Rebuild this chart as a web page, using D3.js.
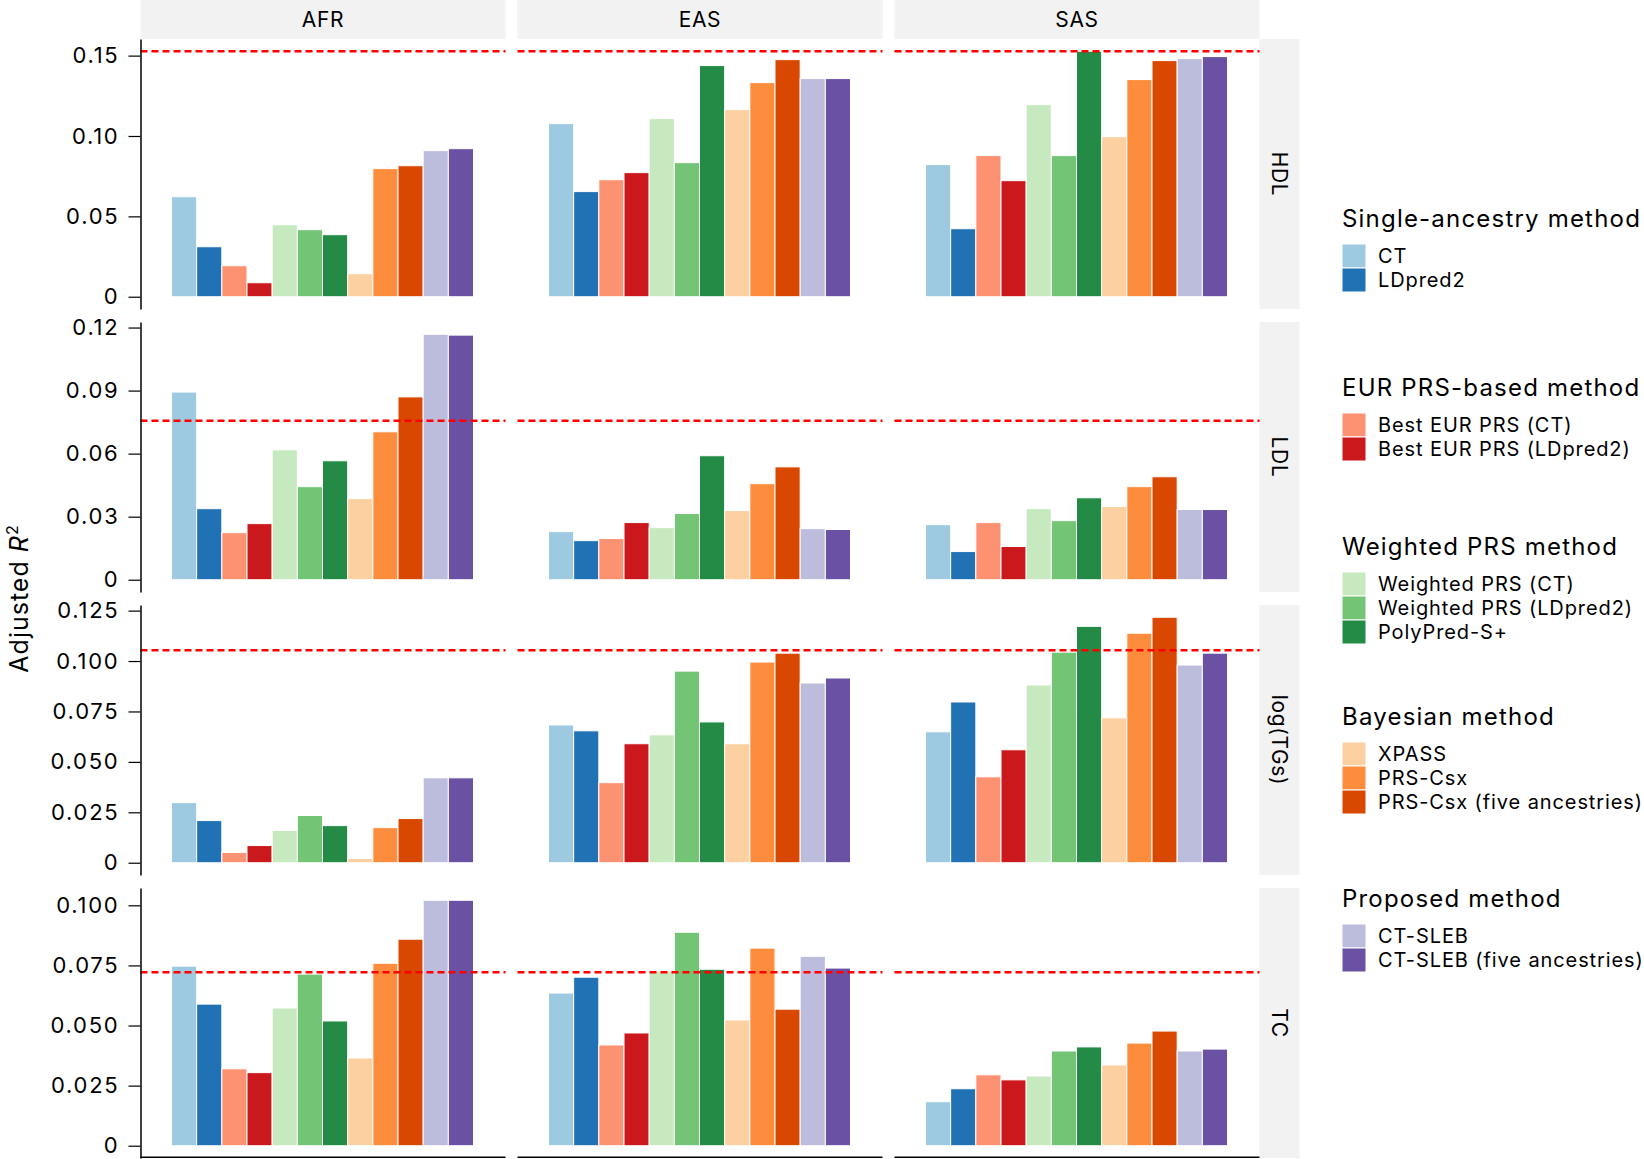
<!DOCTYPE html>
<html>
<head>
<meta charset="utf-8">
<script src="https://cdn.jsdelivr.net/npm/d3@7"></script>
<style>
  body { margin: 0; background: #fff; }
  svg { display: block; font-family: Inter, "Noto Sans", sans-serif; }
</style>
</head>
<body>
<div class="vis-bars"></div>
<script>
// ---- data ----
const ancestries = ['AFR', 'EAS', 'SAS'];
const traits = ['HDL', 'LDL', 'log(TGs)', 'TC'];

const methods = [
  'CT', 'LDpred2',
  'Best EUR PRS (CT)', 'Best EUR PRS (LDpred2)',
  'Weighted PRS (CT)', 'Weighted PRS (LDpred2)', 'PolyPred-S+',
  'XPASS', 'PRS-Csx', 'PRS-Csx (five ancestries)',
  'CT-SLEB', 'CT-SLEB (five ancestries)'
];
const methodColors = [
  '#9ecae1', '#2171b5',
  '#fc9272', '#cb181d',
  '#c7e9c0', '#74c476', '#238b45',
  '#fdd0a2', '#fd8d3c', '#d94801',
  '#bcbddc', '#6a51a3'
];
const groupTitles = [
  'Single-ancestry method', 'EUR PRS-based method', 'Weighted PRS method',
  'Bayesian method', 'Proposed method'
];
const groupSizes = [2, 2, 3, 3, 2];

// adjusted R2, rows = AFR, EAS, SAS; columns follow `methods`
const hdlValues = [
  [0.0622, 0.0311, 0.0193, 0.0087, 0.0448, 0.0417, 0.0386, 0.0143, 0.0797, 0.0815, 0.0909, 0.0921],
  [0.1077, 0.0654, 0.0728, 0.0772, 0.1108, 0.0834, 0.1438, 0.1164, 0.1332, 0.1475, 0.1357, 0.1357],
  [0.0822, 0.0423, 0.0878, 0.0722, 0.1195, 0.0878, 0.1527, 0.0996, 0.1351, 0.1469, 0.1481, 0.1494]
];
const ldlValues = [
  [0.0893, 0.0338, 0.0224, 0.0267, 0.0618, 0.0443, 0.0566, 0.0386, 0.0704, 0.0870, 0.1168, 0.1164],
  [0.0229, 0.0186, 0.0196, 0.0272, 0.0248, 0.0315, 0.0590, 0.0329, 0.0457, 0.0537, 0.0243, 0.0239],
  [0.0262, 0.0134, 0.0272, 0.0158, 0.0338, 0.0281, 0.0390, 0.0348, 0.0443, 0.0490, 0.0334, 0.0334]
];
const tgValues = [
  [0.0298, 0.0209, 0.0051, 0.0085, 0.0160, 0.0234, 0.0184, 0.0021, 0.0174, 0.0219, 0.0421, 0.0421],
  [0.0683, 0.0654, 0.0397, 0.0590, 0.0634, 0.0950, 0.0698, 0.0590, 0.0995, 0.1039, 0.0891, 0.0916],
  [0.0649, 0.0797, 0.0426, 0.0560, 0.0881, 0.1044, 0.1172, 0.0718, 0.1138, 0.1217, 0.0980, 0.1039]
];
const tcValues = [
  [0.0747, 0.0589, 0.0320, 0.0304, 0.0573, 0.0714, 0.0519, 0.0365, 0.0759, 0.0859, 0.1021, 0.1021],
  [0.0635, 0.0701, 0.0419, 0.0469, 0.0726, 0.0888, 0.0734, 0.0523, 0.0822, 0.0568, 0.0788, 0.0739],
  [0.0183, 0.0237, 0.0295, 0.0274, 0.0290, 0.0394, 0.0411, 0.0336, 0.0427, 0.0477, 0.0394, 0.0402]
];
const traitValues = [hdlValues, ldlValues, tgValues, tcValues];

// red dashed reference line per trait
const refLine = [0.1527, 0.0757, 0.1054, 0.0722];

const yTicks = [
  [0, 0.05, 0.10, 0.15],
  [0, 0.03, 0.06, 0.09, 0.12],
  [0, 0.025, 0.05, 0.075, 0.1, 0.125],
  [0, 0.025, 0.05, 0.075, 0.1]
];
const tickDecimals = [2, 2, 3, 3];

// ---- layout ----
const width = 1644;
const height = 1159;
const plotLeft = 140.5;
const panelW = 365;
const colGap = 12;
const plotTop = 39;
const panelH = 270;
const rowGap = 13;
const stripH = 39;
const stripW = 40;
const barInsetL = 31;
const barInsetR = 32;

const svg = d3.select('.vis-bars').append('svg')
  .attr('width', width)
  .attr('height', height);

svg.append('rect').attr('width', width).attr('height', height).attr('fill', '#fff');

const colX = i => plotLeft + i * (panelW + colGap);
const rowY = j => plotTop + j * (panelH + rowGap);

const colorScale = d3.scaleOrdinal().domain(methods).range(methodColors);

// top strips
ancestries.forEach((a, i) => {
  svg.append('rect')
    .attr('x', colX(i)).attr('y', 0)
    .attr('width', panelW).attr('height', stripH)
    .attr('fill', '#f2f2f2');
  svg.append('text')
    .attr('x', colX(i) + panelW / 2).attr('y', stripH / 2)
    .attr('dy', '0.36em')
    .attr('text-anchor', 'middle')
    .attr('font-size', 21)
    .style('letter-spacing', '0.03em')
    .attr('fill', '#000')
    .text(a);
});

traits.forEach((t, j) => {
  const y0 = rowY(j);
  const rowVals = traitValues[j];
  const maxVal = d3.max([d3.max(rowVals.flat()), refLine[j]]);
  const pad = maxVal * 0.05;
  const yScale = d3.scaleLinear()
    .domain([-pad, maxVal + pad])
    .range([y0 + panelH, y0]);

  // right strip
  const sx = colX(2) + panelW;
  svg.append('rect')
    .attr('x', sx).attr('y', y0)
    .attr('width', stripW).attr('height', panelH)
    .attr('fill', '#f2f2f2');
  svg.append('text')
    .attr('transform', `translate(${sx + stripW / 2},${y0 + panelH / 2}) rotate(90)`)
    .attr('dy', '0.36em')
    .attr('text-anchor', 'middle')
    .attr('font-size', 21)
    .style('letter-spacing', '0.03em')
    .text(t);

  ancestries.forEach((a, i) => {
    const x0 = colX(i);
    const xScale = d3.scaleBand()
      .domain(methods)
      .range([x0 + barInsetL, x0 + panelW - barInsetR])
      .padding(0);

    const g = svg.append('g');
    g.selectAll('rect.bar')
      .data(methods.map((m, k) => ({ m, v: rowVals[i][k] })))
      .enter().append('rect')
      .attr('class', 'bar')
      .attr('x', d => xScale(d.m))
      .attr('width', xScale.bandwidth())
      .attr('y', d => yScale(d.v))
      .attr('height', d => yScale(0) - yScale(d.v))
      .attr('fill', d => colorScale(d.m))
      .attr('stroke', '#fff')
      .attr('stroke-width', 1);

    // reference line
    g.append('line')
      .attr('x1', x0).attr('x2', x0 + panelW)
      .attr('y1', yScale(refLine[j])).attr('y2', yScale(refLine[j]))
      .attr('stroke', '#ff0000')
      .attr('stroke-width', 2.5)
      .attr('stroke-dasharray', '7,4');

    // bottom axis line
    if (j === traits.length - 1) {
      g.append('line')
        .attr('x1', x0).attr('x2', x0 + panelW)
        .attr('y1', y0 + panelH - 0.75).attr('y2', y0 + panelH - 0.75)
        .attr('stroke', '#000').attr('stroke-width', 1.5);
    }
  });

  // left axis
  const fmt = v => v === 0 ? '0' : d3.format(`.${tickDecimals[j]}f`)(v);
  const yAxis = d3.axisLeft(yScale)
    .tickValues(yTicks[j])
    .tickFormat(fmt)
    .tickSize(12)
    .tickPadding(9)
    .tickSizeOuter(0);
  const axG = svg.append('g')
    .attr('transform', `translate(${plotLeft},0)`)
    .call(yAxis);
  axG.select('.domain').attr('stroke-width', 1.5);
  axG.selectAll('.tick line').attr('stroke-width', 1.2);
  axG.selectAll('.tick text')
    .attr('font-size', 22)
    .attr('font-family', 'Inter, sans-serif')
    .style('letter-spacing', '0.08em')
    .attr('fill', '#000');
});

// y axis title
const yTitle = svg.append('text')
  .attr('transform', `translate(28,${plotTop + (4 * panelH + 3 * rowGap) / 2}) rotate(-90)`)
  .attr('text-anchor', 'middle')
  .attr('font-size', 25)
  .style('letter-spacing', '0.04em');
yTitle.append('tspan').text('Adjusted ');
yTitle.append('tspan').attr('font-style', 'italic').text('R');
yTitle.append('tspan').attr('font-size', 16).attr('dy', '-0.6em').text('2');

// legend
const legendX = 1342;
const titleBaselines = [227, 396, 555, 725, 907];
const keyH = 24;
let k = 0;
groupTitles.forEach((title, gi) => {
  const lg = svg.append('g').attr('transform', `translate(${legendX},${titleBaselines[gi]})`);
  lg.append('text')
    .attr('x', 0).attr('y', 0)
    .attr('font-size', 24)
    .style('letter-spacing', '0.05em')
    .text(title);
  for (let n = 0; n < groupSizes[gi]; n++) {
    const m = methods[k];
    const row = lg.append('g').attr('transform', `translate(0,${17 + n * keyH})`);
    row.append('rect')
      .attr('width', keyH).attr('height', keyH)
      .attr('fill', colorScale(m))
      .attr('stroke', '#fff').attr('stroke-width', 1);
    row.append('text')
      .attr('x', 36).attr('y', keyH / 2)
      .attr('dy', '0.36em')
      .attr('font-size', 20)
      .style('letter-spacing', '0.045em')
      .text(m);
    k++;
  }
});
</script>
</body>
</html>
